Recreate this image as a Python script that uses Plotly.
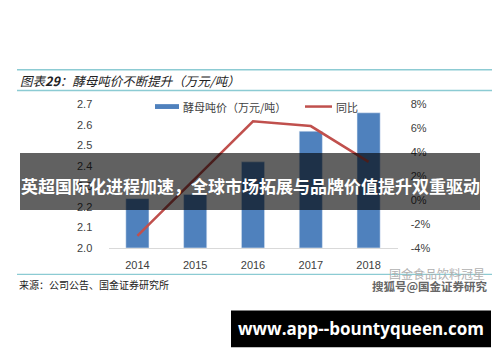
import plotly.graph_objects as go

years = ["2014", "2015", "2016", "2017", "2018"]
price = [2.24, 2.26, 2.42, 2.57, 2.66]          # 酵母吨价（万元/吨）
yoy = [-3.0, 1.8, 6.6, 6.2, 3.2]                 # 同比 (%)
left_ticks = [2.0, 2.1, 2.2, 2.3, 2.4, 2.5, 2.6, 2.7]
right_ticks = [-4, -2, 0, 2, 4, 6, 8]

W, H = 500, 362
BLUE = "#4f81bd"
RED = "#c0504d"
TEAL = "#8ccbd3"
FONT = "Liberation Sans, Arial, sans-serif"
CJK = "Noto Sans CJK SC"

def px(x):
    return x / W

def py(y):
    return 1 - y / H

fig = go.Figure()
fig.add_trace(go.Bar(x=years, y=price, marker_color=BLUE, name="酵母吨价（万元/吨）",
                     yaxis="y", showlegend=False))
fig.add_trace(go.Scatter(x=years, y=yoy, mode="lines", line=dict(color=RED, width=2.5),
                         name="同比", yaxis="y2", showlegend=False))

fig.update_layout(
    width=W, height=H,
    margin=dict(l=0, r=0, t=0, b=0),
    paper_bgcolor="white", plot_bgcolor="white",
    bargap=0.6,
    xaxis=dict(domain=[px(108.5), px(397.5)], type="category",
               showline=True, linecolor="#d9d9d9", linewidth=1,
               ticks="outside", ticklen=7, tickcolor="rgba(0,0,0,0)",
               tickfont=dict(family=FONT, size=11, color="#404040"), showgrid=False),
    yaxis=dict(domain=[py(250), py(102)], range=[2.0, 2.7], tickvals=left_ticks,
               ticktext=[f"{v:.1f}" for v in left_ticks],
               ticks="outside", ticklen=13, tickcolor="rgba(0,0,0,0)",
               showgrid=False, zeroline=False,
               tickfont=dict(family=FONT, size=11, color="#404040")),
    yaxis2=dict(overlaying="y", side="right", range=[-4, 8], tickvals=right_ticks,
                ticktext=[f"{v}%" for v in right_ticks],
                ticks="outside", ticklen=10, tickcolor="rgba(0,0,0,0)",
                showgrid=False, zeroline=False,
                tickfont=dict(family=FONT, size=11, color="#404040")),
)

shapes = []
annotations = []

# title rules
for yy in (66, 87.5):
    shapes.append(dict(type="line", xref="paper", yref="paper", x0=px(17), x1=px(492),
                       y0=py(yy), y1=py(yy), line=dict(color=TEAL, width=1.5)))
annotations.append(dict(xref="paper", yref="paper", x=px(18), y=py(77), xanchor="left",
                        yanchor="middle", showarrow=False,
                        text="<i>图表<b>29</b>：酵母吨价不断提升（万元/吨）</i>",
                        font=dict(family=CJK, size=12.5, color="#222")))

# legend
shapes.append(dict(type="rect", xref="paper", yref="paper", x0=px(155), x1=px(179),
                   y0=py(106.5), y1=py(101.5), fillcolor=BLUE, line=dict(width=0)))
annotations.append(dict(xref="paper", yref="paper", x=px(181), y=py(104), xanchor="left",
                        yanchor="middle", showarrow=False, text="酵母吨价（万元/吨）",
                        font=dict(family=CJK, size=11, color="#404040")))
shapes.append(dict(type="line", xref="paper", yref="paper", x0=px(305), x1=px(332),
                   y0=py(104), y1=py(104), line=dict(color=RED, width=2.5)))
annotations.append(dict(xref="paper", yref="paper", x=px(334), y=py(104), xanchor="left",
                        yanchor="middle", showarrow=False, text="同比",
                        font=dict(family=CJK, size=11, color="#404040")))

# bottom rule and source
shapes.append(dict(type="line", xref="paper", yref="paper", x0=px(17), x1=px(492),
                   y0=py(277.5), y1=py(277.5), line=dict(color=TEAL, width=1.2)))
annotations.append(dict(xref="paper", yref="paper", x=px(17), y=py(288), xanchor="left",
                        yanchor="middle", showarrow=False, text="来源：公司公告、国金证券研究所",
                        font=dict(family=CJK, size=10, color="#222")))
# watermark
annotations.append(dict(xref="paper", yref="paper", x=px(487), y=py(277), xanchor="right",
                        yanchor="middle", showarrow=False, text="国金食品饮料冠星",
                        font=dict(family=CJK, size=12, color="#b0b0b0")))
annotations.append(dict(xref="paper", yref="paper", x=px(490), y=py(290), xanchor="right",
                        yanchor="middle", showarrow=False, text="<b>搜狐号@国金证券研究</b>",
                        font=dict(family=CJK, size=11.5, color="#666")))

# banner overlay
shapes.append(dict(type="rect", xref="paper", yref="paper", x0=px(20), x1=px(480),
                   y0=py(211), y1=py(152), fillcolor="rgba(0,0,0,0.62)", line=dict(width=0),
                   layer="above"))
annotations.append(dict(xref="paper", yref="paper", x=px(250), y=py(186), xanchor="center",
                        yanchor="middle", showarrow=False,
                        text="<b>英超国际化进程加速，全球市场拓展与品牌价值提升双重驱动</b>",
                        font=dict(family=CJK, size=17, color="white")))

# bottom black bar
shapes.append(dict(type="rect", xref="paper", yref="paper", x0=px(231), x1=px(491),
                   y0=py(353), y1=py(315), fillcolor="black", line=dict(width=0),
                   layer="above"))
annotations.append(dict(xref="paper", yref="paper", x=px(361), y=py(334), xanchor="center",
                        yanchor="middle", showarrow=False,
                        text="<b>www.app--bountyqueen.com</b>",
                        font=dict(family="Open Sans, sans-serif", size=17, color="white")))

fig.update_layout(shapes=shapes, annotations=annotations)
fig.write_html("out.html", config={"displayModeBar": False},
               post_script="document.body.style.margin='0';document.body.style.overflow='hidden';")
